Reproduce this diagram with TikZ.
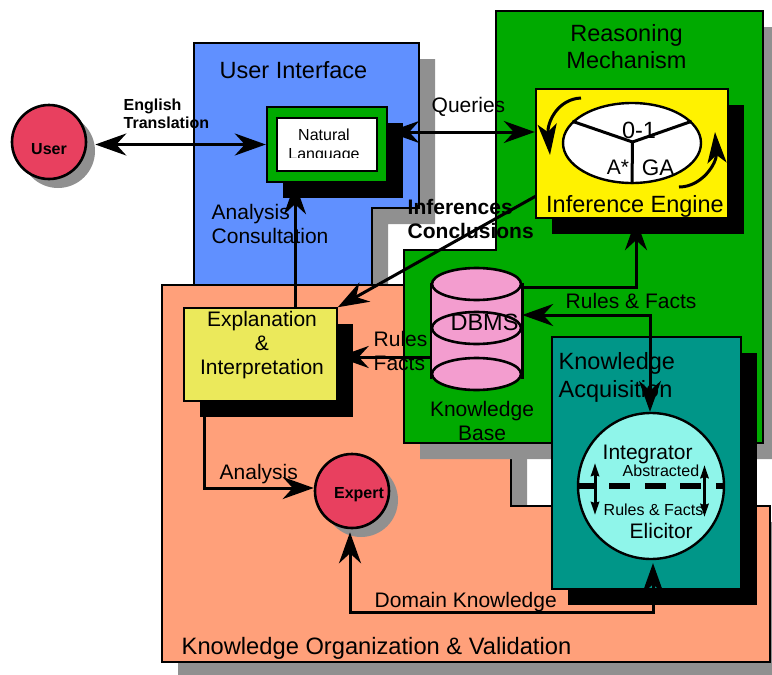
\documentclass[tikz,border=0pt]{standalone}
\usepackage{fontspec}
\setmainfont{Liberation Sans}
\usetikzlibrary{arrows.meta,shapes.geometric,shadows}
\definecolor{uiblue}{HTML}{6090FF}
\definecolor{kbgreen}{HTML}{00AA00}
\definecolor{kopeach}{HTML}{FFA07A}
\definecolor{kateal}{HTML}{009688}
\definecolor{kacyan}{HTML}{8FF5EA}
\definecolor{explyellow}{HTML}{EBE95B}
\definecolor{dbpink}{HTML}{F39DCF}
\definecolor{agentred}{HTML}{E8405F}
\definecolor{shadowgray}{HTML}{909090}
\newcommand{\fs}[2]{\fontsize{#1}{#2}\selectfont}

\begin{document}
\begin{tikzpicture}[x=1pt,y=-1pt,line width=2.4pt,
   graydrop/.style={general shadow={fill=shadowgray,shadow xshift=16pt,shadow yshift=-16pt}},
   blackdrop/.style={general shadow={fill=black,shadow xshift=16pt,shadow yshift=-16pt}},
   agentdrop/.style={general shadow={fill=shadowgray,shadow xshift=9pt,shadow yshift=-9pt}},
   box/.style={draw,rectangle,inner sep=0pt},
   agent/.style={draw,circle,fill=agentred,minimum size=74pt,inner sep=0pt,line width=2.6pt,agentdrop},
   disc/.style={draw,ellipse,fill=dbpink,minimum width=89pt,minimum height=32pt,inner sep=0pt,line width=2.6pt},
   lbl/.style={inner sep=0pt,anchor=west,align=left},
   lblc/.style={inner sep=0pt,align=center},
   link/.style={line width=3pt},
   >={Stealth[length=31pt,width=22pt,inset=10pt]}]
   \useasboundingbox (0,0) rectangle (772,675);

   \draw[fill=uiblue,graydrop] (194,43) -- (419,43) -- (419,208) -- (372,208) -- (372,285) -- (194,285) -- cycle;
   \draw[fill=kopeach,graydrop] (162,285) -- (511,285) -- (511,506) -- (770,506) -- (770,662) -- (162,662) -- cycle;
   \draw[fill=kbgreen,graydrop] (496,11) -- (763,11) -- (763,443) -- (404,443) -- (404,250) -- (496,250) -- cycle;

   \node[box,fill=kbgreen,minimum width=120pt,minimum height=75pt,blackdrop] (lang) at (327,144.5) {};
   \node[box,fill=white,minimum width=100pt,minimum height=53pt] (langin) at (327,144.5) {};
   \node[lblc,font=\fs{16}{19}] (tlang) at (324,145.5) {Natural\\Language};
   \fill[white] (279,158) rectangle (376,170);

   \node[box,fill=yellow,minimum width=192pt,minimum height=129pt,blackdrop] (engine) at (632,153.5) {};
   \node[draw,ellipse,fill=white,minimum width=138pt,minimum height=80pt,inner sep=0pt] (wheel) at (632,143) {};
   \coordinate (hub) at (632.5,142);
   \path[-,line width=3pt] (hub) edge (wheel.160) (hub) edge (wheel.20) (hub) edge (wheel.south);

   \node[box,fill=explyellow,line width=1.5pt,minimum width=153pt,minimum height=93pt,blackdrop] (expl) at (260.5,354.5) {};

   \node[rectangle,fill=dbpink,inner sep=0pt,minimum width=89pt,minimum height=94pt] (dbms) at (476.5,331) {};
   \path[-,line width=2.6pt] (dbms.north west) edge (dbms.south west) (dbms.north east) edge (dbms.south east);
   \node[disc] (dbtop) at (476.5,284) {};
   \node[disc,fill=none] (dbmid) at (476.5,328) {};
   \node[disc] (dbbot) at (476.5,374) {};

   \node[box,fill=kateal,minimum width=189pt,minimum height=252pt,blackdrop] (acq) at (646.5,463) {};
   \node[draw,circle,fill=kacyan,minimum size=146pt,inner sep=0pt] (acqcirc) at (651,486) {};
   \path[-,line width=6pt,dash pattern=on 21pt off 14.5pt,dash phase=3pt] (acqcirc.west) edge (acqcirc.east);

   \node[agent] (user) at (49,142) {};
   \node[agent] (expert) at (352,491) {};

   \coordinate (qry) at (460,132);
   \coordinate (rfup) at (636,287);
   \coordinate (rfacq) at (650,315);
   \coordinate (fromdb) at (400,357);
   \coordinate (anl) at (204,488);
   \coordinate (doml) at (350,612);
   \coordinate (domr) at (653,612);
   \coordinate (expup) at (295,250);
   \coordinate (eng) at (536,196);
   \coordinate (lup) at (595,463);
   \coordinate (ldn) at (595,515);
   \coordinate (rup) at (704.5,465);
   \coordinate (rdn) at (704.5,517);
   \coordinate (cwa) at (581,98);
   \coordinate (cwb) at (550,155);
   \coordinate (ccwa) at (679,187);
   \coordinate (ccwb) at (715,132);

   \path[<->,link,shorten <=8pt] (lang.west -| user.east) edge (lang.west);
   \path[<->,link] (qry -| lang.east) edge (qry -| engine.west);
   \path[->,link] (expup |- expl.north) edge (expup |- lang.south);
   \path[->,link] (eng) edge (expl.north east);
   \path[->,link] (fromdb -| dbms.west) edge (fromdb -| expl.east);
   \draw[->,link] (rfup -| dbms.east) -- (rfup) -- (rfup |- engine.south);
   \draw[<->,link] (rfacq -| dbms.east) -- (rfacq) -- (rfacq |- acqcirc.north);
   \draw[->,link] (anl |- expl.south) -- (anl) -- (anl -| expert.west);
   \draw[<->,link,shorten <=3pt,shorten >=3pt] (doml |- expert.south) -- (doml) -- (domr) -- (domr |- acqcirc.south);
   \path[<->,link,>={Stealth[length=13pt,width=8pt,inset=1pt]}] (lup) edge (ldn) (rup) edge (rdn);
   \draw[->,link,>={Stealth[length=31pt,width=19pt,inset=8pt]}] (cwa) .. controls (558,99) and (547,122) .. (cwb);
   \draw[->,link,>={Stealth[length=31pt,width=19pt,inset=8pt]}] (ccwa) .. controls (702,187) and (717,163) .. (ccwb);

   \node[lbl,font=\fs{23.5}{28}] (tui) at (218.5,70) {User Interface};
   \node[lblc,font=\fs{23.5}{27}] (trm) at (626.5,47) {Reasoning\\Mechanism};
   \node[lbl,font=\bfseries\fs{16}{18}] (ttrans) at (122.5,114) {English\\Translation};
   \node[lblc,font=\bfseries\fs{16}{18}] (tuser) at (49,149) {User};
   \node[lblc,font=\bfseries\fs{16}{18}] (texpert) at (359,495) {Expert};
   \node[lbl,font=\fs{21}{24}] (tqry) at (430.5,107) {Queries};
   \node[lbl,font=\fs{21}{24}] (tcons) at (210.5,223.5) {Analysis\\Consultation};
   \node[lbl,font=\bfseries\fs{21}{24}] (tinf) at (406.5,219) {Inferences\\Conclusions};
   \node[lblc,font=\fs{23.5}{28}] (tzero) at (639,130) {0-1};
   \node[lblc,font=\fs{21}{24}] (tastar) at (618,167) {A*};
   \node[lblc,font=\fs{22.5}{24}] (tga) at (658,168) {GA};
   \node[lblc,font=\fs{23.5}{28}] (tinfer) at (635,206.5) {Inference Engine};
   \node[lblc,font=\fs{21}{24}] (texpl) at (262,345.5) {Explanation\\\&\\Interpretation};
   \node[lbl,font=\fs{21}{24}] (trules) at (372.5,351) {Rules\\Facts};
   \node[lblc,font=\fs{23.5}{28}] (tdbms) at (484.5,322) {DBMS};
   \node[lblc,font=\fs{21}{24}] (tkb) at (482,420.5) {Knowledge\\Base};
   \node[lbl,font=\fs{21}{24}] (trf) at (564.5,300.5) {Rules \& Facts};
   \node[lbl,font=\fs{23.5}{28}] (tacq) at (557.5,377.5) {Knowledge\\Acquisition};
   \node[lbl,font=\fs{21}{24}] (tintg) at (601.5,454) {Integrator};
   \node[lbl,font=\fs{16}{18}] (tabs) at (621.5,470.5) {Abstracted};
   \node[lbl,font=\fs{16}{18}] (trf2) at (602.5,509.5) {Rules \& Facts};
   \node[lbl,font=\fs{21}{24}] (telic) at (628.5,531) {Elicitor};
   \node[lbl,font=\fs{21}{24}] (tanl) at (218.5,474.5) {Analysis};
   \node[lbl,font=\fs{21}{24}] (tdom) at (373.5,602.5) {Domain Knowledge};
   \node[lbl,font=\fs{23.7}{28}] (tko) at (180.5,648.5) {Knowledge Organization \& Validation};
\end{tikzpicture}
\end{document}
